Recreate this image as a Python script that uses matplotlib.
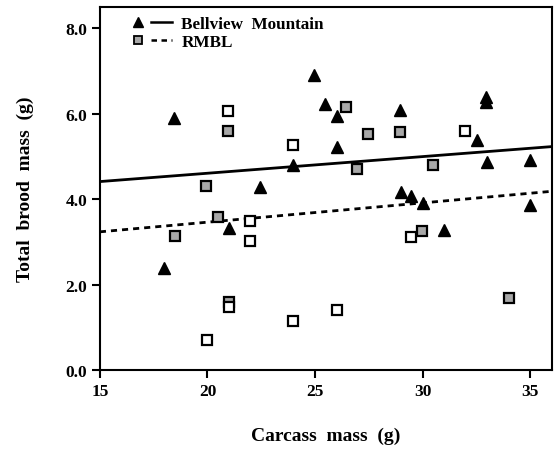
import matplotlib
matplotlib.use("Agg")
import matplotlib.pyplot as plt
import numpy as np
from matplotlib.lines import Line2D
from matplotlib.legend_handler import HandlerTuple

# Bellview Mountain (triangles)
bell_x = [18.0, 18.45, 21.0, 22.45, 23.95, 24.95, 25.45, 26.0, 26.0, 28.95,
          29.0, 29.45, 30.0, 31.0, 32.5, 32.95, 32.95, 33.0, 35.0, 35.0]
bell_y = [2.4, 5.9, 3.32, 4.28, 4.8, 6.92, 6.24, 5.94, 5.22, 6.08,
          4.16, 4.07, 3.92, 3.27, 5.40, 6.39, 6.28, 4.87, 4.93, 3.86]

# RMBL (squares); shaded = grey-filled symbol
rmbl_x = [20.95, 20.95, 23.98, 19.93, 26.44, 27.47, 28.95, 31.98, 26.95, 30.49,
          29.98, 29.47, 20.49, 18.49, 21.98, 21.98, 21.0, 21.0, 19.98, 23.98,
          26.0, 34.0]
rmbl_y = [6.06, 5.59, 5.26, 4.30, 6.15, 5.52, 5.57, 5.61, 4.70, 4.80,
          3.25, 3.12, 3.58, 3.14, 3.48, 3.02, 1.59, 1.47, 0.70, 1.15,
          1.40, 1.68]
rmbl_shaded = [False, True, False, True, True, True, True, False, True, True,
               True, False, True, True, False, False, True, False, False, False,
               False, True]

# regression lines (intercept, slope)
bell_fit = [3.83, 0.039]
rmbl_fit = [2.56, 0.0452]

xticks = [15, 20, 25, 30, 35]
yticks = [0.0, 2.0, 4.0, 6.0, 8.0]

plt.rcParams['font.family'] = ['Liberation Serif', 'DejaVu Serif']
plt.rcParams['font.weight'] = 'bold'

fig = plt.figure(figsize=(5.58, 4.52), dpi=100)
ax = fig.add_axes([0.179, 0.179, 0.81, 0.803])

ax.set_xlim(15, 36)
ax.set_ylim(0, 8.5)

xs = np.array([15, 36])
dash = (0, (2.2, 1.8))
ax.plot(xs, bell_fit[0] + bell_fit[1] * xs, color='black', lw=2.0, zorder=2)
ax.plot(xs, rmbl_fit[0] + rmbl_fit[1] * xs, color='black', lw=2.0,
        linestyle=dash, zorder=2)

ax.plot(bell_x, bell_y, linestyle='none', marker='^', ms=8, color='black', zorder=3)
rx = np.array(rmbl_x); ry = np.array(rmbl_y); rs = np.array(rmbl_shaded)
ax.plot(rx[rs], ry[rs], linestyle='none', marker='s', ms=7, mfc='#a8a8a8',
        mec='black', mew=1.6, zorder=3)
ax.plot(rx[~rs], ry[~rs], linestyle='none', marker='s', ms=7, mfc='white',
        mec='black', mew=1.6, zorder=3)

ax.set_xticks(xticks)
ax.set_xticklabels([str(v) for v in xticks])
ax.set_yticks(yticks)
ax.set_yticklabels([f"{v:.1f}" for v in yticks])
ax.tick_params(direction='out', length=6, width=1.5, labelsize=12.5, pad=3)
for s in ax.spines.values():
    s.set_linewidth(1.5)

ax.set_xlabel('Carcass  mass  (g)', fontsize=14, fontweight='bold', labelpad=20)
ax.set_ylabel('Total  brood  mass  (g)', fontsize=14, fontweight='bold', labelpad=23)

h1 = (Line2D([], [], linestyle='none', marker='^', ms=6.5, color='black'),
      Line2D([], [], color='black', lw=1.8))
h2 = (Line2D([], [], linestyle='none', marker='s', ms=5.5, mfc='#a8a8a8', mec='black', mew=1.3),
      Line2D([], [], color='black', lw=1.8, linestyle=dash))
leg = ax.legend([h1, h2], ['Bellview  Mountain', 'RMBL'],
                handler_map={tuple: HandlerTuple(ndivide=None, pad=0.15)},
                loc='upper left', bbox_to_anchor=(0.035, 1.008), frameon=False,
                fontsize=12.3, handlelength=2.6, handletextpad=0.55, labelspacing=0.12,
                borderaxespad=0.3)

fig.savefig('out.png', dpi=100)
